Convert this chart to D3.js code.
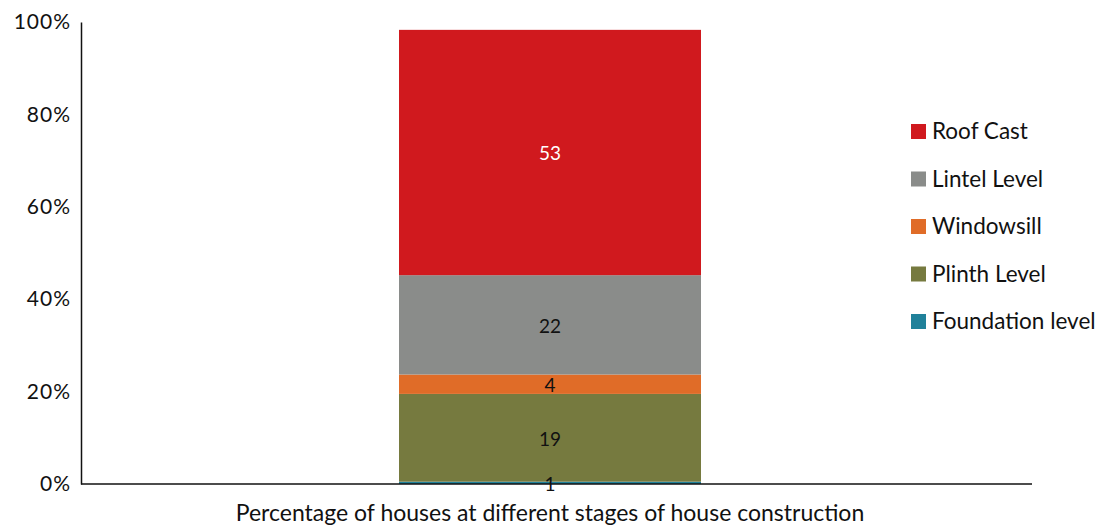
<!DOCTYPE html>
<html>
<head>
<meta charset="utf-8">
<script src="https://cdn.jsdelivr.net/npm/d3@7"></script>
<style>
  body { margin: 0; background: #fff; }
  svg { display: block; font-family: Lato, "Open Sans", sans-serif; }
</style>
</head>
<body>
<div id="chart"></div>
<script>
// stages, bottom to top
const stages = ['Foundation level', 'Plinth Level', 'Windowsill', 'Lintel Level', 'Roof Cast'];
const shares = [0.5, 19.0, 4.2, 21.5, 53.1];   // % of houses
const shareLabels = ['1', '19', '4', '22', '53'];
const stageColors = ['#20819a', '#767a3f', '#e06c28', '#8a8c8a', '#d0191e'];
const labelColors = ['#111', '#111', '#111', '#111', '#fff'];
const category = ['Percentage of houses at different stages of house construction'];
const yTicks = [0, 20, 40, 60, 80, 100];

const W = 1104, H = 528;
const margin = {left: 81, right: 73, top: 22, bottom: 44};

const svg = d3.select('#chart').append('svg')
  .attr('width', W)
  .attr('height', H);

const y = d3.scaleLinear().domain([0, 100]).range([H - margin.bottom, margin.top]);
const x = d3.scaleBand().domain(category).range([margin.left, 1019]).paddingOuter(1.053).paddingInner(0);

// stack the single column
let acc = 0;
const segs = shares.map(function(v, i) {
  const s = {y0: acc, y1: acc + v, i: i};
  acc += v;
  return s;
});

svg.selectAll('rect.seg').data(segs).enter().append('rect')
  .attr('class', 'seg')
  .attr('x', x(category[0]))
  .attr('width', x.bandwidth())
  .attr('y', d => y(d.y1))
  .attr('height', d => y(d.y0) - y(d.y1))
  .attr('fill', d => stageColors[d.i]);

// y axis
const yAxis = svg.append('g')
  .attr('transform', 'translate(' + margin.left + ',0)')
  .call(d3.axisLeft(y).tickValues(yTicks).tickFormat(d => d + '%').tickSize(0).tickPadding(10));
yAxis.select('.domain').attr('stroke', '#111').attr('stroke-width', 1.5);
yAxis.selectAll('text')
  .attr('font-size', 21)
  .attr('letter-spacing', 1)
  .attr('fill', '#111')
  .attr('font-family', 'Lato, sans-serif');

// x axis line
svg.append('line')
  .attr('x1', margin.left).attr('x2', 1032)
  .attr('y1', y(0)).attr('y2', y(0))
  .attr('stroke', '#111').attr('stroke-width', 1.5);

// segment labels
svg.selectAll('text.val').data(segs).enter().append('text')
  .attr('class', 'val')
  .attr('x', x(category[0]) + x.bandwidth() / 2)
  .attr('y', d => (y(d.y0) + y(d.y1)) / 2 + 3)
  .attr('text-anchor', 'middle')
  .attr('dominant-baseline', 'middle')
  .attr('font-size', 19)
  .attr('fill', d => labelColors[d.i])
  .text(d => shareLabels[d.i]);

// category label
svg.append('text')
  .attr('x', x(category[0]) + x.bandwidth() / 2)
  .attr('y', 521)
  .attr('text-anchor', 'middle')
  .attr('font-size', 23)
  .attr('fill', '#111')
  .text(category[0]);

// legend, top to bottom = reversed stack
const legendOrder = d3.range(stages.length).reverse();
const lg = svg.selectAll('g.leg').data(legendOrder).enter().append('g')
  .attr('class', 'leg')
  .attr('transform', (d, k) => 'translate(911,' + (131.5 + k * 47.5) + ')');
lg.append('rect')
  .attr('x', 0).attr('y', -7.5)
  .attr('width', 15).attr('height', 15)
  .attr('fill', d => stageColors[d]);
lg.append('text')
  .attr('x', 21)
  .attr('y', 2)
  .attr('dominant-baseline', 'middle')
  .attr('font-size', 22.5)
  .attr('fill', '#111')
  .text(d => stages[d]);
</script>
</body>
</html>
